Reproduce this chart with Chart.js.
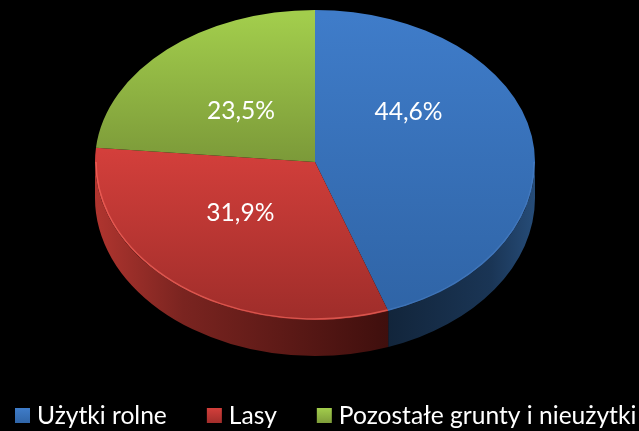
<!DOCTYPE html>
<html>
<head>
<meta charset="utf-8">
<script src="https://cdn.jsdelivr.net/npm/chart.js@4"></script>
<style>
  html, body { margin: 0; padding: 0; background: #000; }
  #wrap { width: 639px; height: 431px; }
  #pieChart { filter: blur(0.6px); }
</style>
</head>
<body>
<div id="wrap"><canvas id="pieChart"></canvas></div>
<script>
const categories = ['Użytki rolne', 'Lasy', 'Pozostałe grunty i nieużytki'];
const shares = [44.6, 31.9, 23.5];
const shareLabels = ['44,6%', '31,9%', '23,5%'];

// top and bottom of each slice's gradient, lighter colour first
const sliceColors = [
    { from: '#3f7cc9', to: '#2f64a6', y0: 10, y1: 315 },
    { from: '#d33f3b', to: '#9f2d2a', y0: 150, y1: 320 },
    { from: '#a2cd4c', to: '#7c9a39', y0: 10, y1: 160 }
];
const wallColors = [
    [[0, '#12253b'], [0.7, '#1a3555'], [1, '#264c78']],
    [[0, '#b0352f'], [0.3, '#7a2420'], [1, '#3f0f0d']],
    [[0, '#7c9a39'], [1, '#7c9a39']]
];
const rimColors = ['rgba(90,140,210,0.35)', 'rgba(255,110,100,0.6)', 'rgba(0,0,0,0)'];

// the flat circle from the library is stretched into the tilted ellipse
const tilt = { x: 315, y: 162, rx: 220, ryTop: 152, ryBottom: 158, depth: 36 };
const baseRadius = 150;

// the original labels are not quite at the middle of the slice
const labelShift = [[-15, -37], [-7, -9], [0, 5]];

function drawLegend(ctx) {
    let x = 15;
    const y = 416;
    ctx.font = '24.6px Lato';
    ctx.textAlign = 'left';
    ctx.textBaseline = 'middle';
    categories.forEach((name, i) => {
        const c = sliceColors[i];
        // small bevelled swatch: lighter top, darker sides
        const g = ctx.createLinearGradient(0, y - 8, 0, y + 8);
        g.addColorStop(0, c.from);
        g.addColorStop(1, c.to);
        ctx.fillStyle = g;
        ctx.fillRect(x, y - 8, 15, 15);
        ctx.fillStyle = '#ffffff';
        ctx.fillText(name, x + 22, y);
        x += 22 + ctx.measureText(name).width + 40;
    });
}

const tiltedPie = {
    id: 'tiltedPie',
    beforeDatasetsDraw(chart) {
        const ctx = chart.ctx;
        const arcs = chart.getDatasetMeta(0).data;
        const cx = arcs[0].x, cy = arcs[0].y;

        // side wall, only the part facing the viewer
        arcs.forEach((arc, i) => {
            const a0 = Math.max(arc.startAngle, 0);
            const a1 = Math.min(arc.endAngle, Math.PI);
            if (a1 <= a0) return;
            const px = a => tilt.x + tilt.rx * Math.cos(a);
            const grad = ctx.createLinearGradient(px(a1), 0, px(a0), 0);
            wallColors[i].forEach(s => grad.addColorStop(s[0], s[1]));
            ctx.beginPath();
            ctx.ellipse(tilt.x, tilt.y, tilt.rx, tilt.ryBottom, 0, a0, a1);
            ctx.ellipse(tilt.x, tilt.y + tilt.depth, tilt.rx, tilt.ryBottom, 0, a1, a0, true);
            ctx.closePath();
            ctx.fillStyle = grad;
            ctx.fill();
        });

        // top face, upper and lower halves have slightly different height
        const halves = [
            { clipY: tilt.y - 200, clipH: 200, ry: tilt.ryTop },
            { clipY: tilt.y, clipH: 200, ry: tilt.ryBottom }
        ];
        halves.forEach(h => {
            ctx.save();
            ctx.beginPath();
            ctx.rect(0, h.clipY, chart.width, h.clipH);
            ctx.clip();
            ctx.translate(tilt.x, tilt.y);
            ctx.scale(tilt.rx / baseRadius, h.ry / baseRadius);
            ctx.translate(-cx, -cy);
            arcs.forEach(arc => arc.draw(ctx));
            ctx.restore();
        });

        // thin lighter rim on the front edge
        arcs.forEach((arc, i) => {
            const a0 = Math.max(arc.startAngle, 0);
            const a1 = Math.min(arc.endAngle, Math.PI);
            if (a1 <= a0) return;
            ctx.beginPath();
            ctx.ellipse(tilt.x, tilt.y, tilt.rx - 1, tilt.ryBottom - 1, 0, a0, a1);
            ctx.strokeStyle = rimColors[i];
            ctx.lineWidth = 1.5;
            ctx.stroke();
        });
        return false;
    },
    afterDraw(chart) {
        const ctx = chart.ctx;
        const arcs = chart.getDatasetMeta(0).data;
        ctx.save();
        ctx.font = '24.6px Lato';
        ctx.fillStyle = '#ffffff';
        ctx.textAlign = 'center';
        ctx.textBaseline = 'middle';
        arcs.forEach((arc, i) => {
            const pos = arc.tooltipPosition();
            const sx = tilt.rx / baseRadius, sy = tilt.ryTop / baseRadius;
            ctx.fillText(shareLabels[i],
                tilt.x + (pos.x - arc.x) * sx + labelShift[i][0],
                tilt.y + (pos.y - arc.y) * sy + labelShift[i][1]);
        });
        drawLegend(ctx);
        ctx.restore();
    }
};

const ctx = document.getElementById('pieChart').getContext('2d');
new Chart(ctx, {
    type: 'pie',
    data: {
        labels: categories,
        datasets: [{
            data: shares,
            radius: baseRadius,
            borderWidth: 0,
            backgroundColor: c => {
                const s = sliceColors[c.dataIndex];
                // gradient runs in the stretched space, so map the picture's y back
                const area = c.chart.chartArea;
                if (!area) return s.from;
                const cy = (area.top + area.bottom) / 2;
                const k = baseRadius / tilt.ryBottom;
                const g = c.chart.ctx.createLinearGradient(0, cy + (s.y0 - tilt.y) * k, 0, cy + (s.y1 - tilt.y) * k);
                g.addColorStop(0, s.from);
                g.addColorStop(1, s.to);
                return g;
            }
        }]
    },
    options: {
        responsive: true,
        maintainAspectRatio: false,
        animation: false,
        plugins: {
            tooltip: { enabled: false },
            legend: { display: false }
        }
    },
    plugins: [tiltedPie]
});
</script>
</body>
</html>
